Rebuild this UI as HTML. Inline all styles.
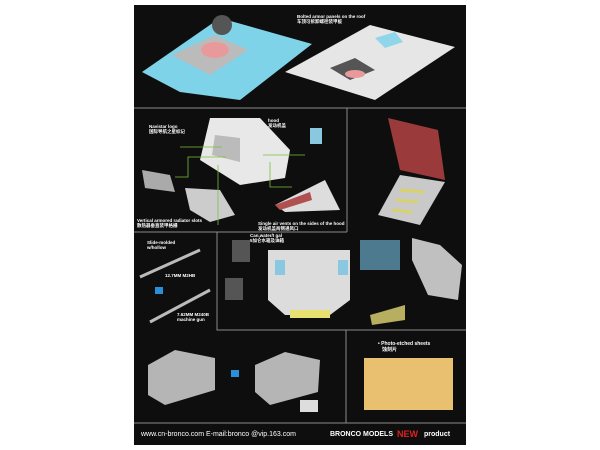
<!DOCTYPE html>
<html><head><style>
body{margin:0;background:#fff;width:600px;height:450px;overflow:hidden}
svg{display:block}
text{font-family:"Liberation Sans","Noto Sans CJK SC",sans-serif;fill:#fff;font-weight:bold}
</style></head><body>
<svg width="600" height="450" viewBox="0 0 600 450">
<rect x="134" y="5" width="332" height="440" fill="#0e0e0e"/>
<g stroke="#8a8a8a" stroke-width="1" fill="none">
<line x1="134" y1="108" x2="466" y2="108"/>
<line x1="347" y1="108" x2="347" y2="232"/>
<line x1="134" y1="232" x2="347" y2="232"/>
<polyline points="217,232 217,330 466,330"/>
<line x1="346" y1="330" x2="346" y2="423"/>
<line x1="134" y1="423" x2="466" y2="423"/>
</g>
<!-- top left roof -->
<polygon points="142,72 220,18 312,44 240,100 180,92" fill="#7fd3e8"/>
<polygon points="172,55 215,35 248,50 210,75" fill="#bbb"/>
<ellipse cx="215" cy="50" rx="14" ry="8" fill="#e89a9a"/>
<ellipse cx="222" cy="25" rx="10" ry="10" fill="#555"/>
<!-- top right roof -->
<polygon points="285,72 370,25 455,47 375,100" fill="#e6e6e6"/>
<polygon points="375,38 395,32 403,42 385,48" fill="#8fd6ea"/>
<polygon points="330,68 355,58 375,70 350,80" fill="#555"/>
<ellipse cx="355" cy="74" rx="10" ry="4" fill="#e89a9a"/>
<text x="297" y="18" font-size="4.5">Bolted armor panels on the roof</text>
<text x="297" y="23" font-size="4.5">车顶可拆卸螺栓装甲板</text>
<!-- hood section -->
<polygon points="210,118 260,118 290,150 285,178 240,185 200,160" fill="#e8e8e8"/>
<polygon points="215,135 240,138 240,162 212,155" fill="#bbb"/>
<polygon points="142,170 170,175 175,192 145,188" fill="#aaa"/>
<polygon points="185,188 220,190 235,215 210,222 190,210" fill="#ccc"/>
<polygon points="275,205 325,180 340,210 285,212" fill="#ddd"/>
<polygon points="275,205 310,192 312,200 280,210" fill="#b05050"/>
<rect x="310" y="128" width="12" height="16" fill="#8ac8e0"/>
<g stroke="#7fbf3f" stroke-width="0.8" fill="none">
<polyline points="180,147 222,147"/><polyline points="175,177 188,177 188,157 226,157"/><polyline points="218,165 218,225"/><polyline points="263,155 305,155"/><polyline points="270,162 270,187 292,187"/>
</g>
<text x="149" y="128" font-size="4.5">Navistar logo</text>
<text x="149" y="133" font-size="4.5">国际导航之星标记</text>
<text x="268" y="122" font-size="4.5">hood</text>
<text x="268" y="127" font-size="4.5">发动机盖</text>
<text x="137" y="222" font-size="4.5">Vertical armored radiator slots</text>
<text x="137" y="227" font-size="4.5">散热器垂直装甲格栅</text>
<text x="258" y="225" font-size="4.5">Single air vents on the sides of the hood</text>
<text x="258" y="230" font-size="4.5">发动机盖两侧通风口</text>
<!-- door right -->
<polygon points="388,118 438,130 445,180 400,170" fill="#9a3a3a"/>
<polygon points="378,215 400,175 445,182 420,225" fill="#c9c9c9"/>
<g stroke="#d9d26a" stroke-width="3"><line x1="392" y1="210" x2="412" y2="212"/><line x1="396" y1="200" x2="418" y2="202"/><line x1="400" y1="190" x2="424" y2="192"/></g>
<polygon points="412,238 440,245 462,265 458,300 428,295 412,260" fill="#c0c0c0"/>
<!-- middle -->
<polygon points="268,250 350,250 350,300 330,315 285,315 268,300" fill="#dcdcdc"/>
<rect x="275" y="260" width="10" height="15" fill="#8ac8e0"/><rect x="338" y="260" width="10" height="15" fill="#8ac8e0"/>
<rect x="290" y="310" width="40" height="8" fill="#e8e070"/>
<rect x="232" y="240" width="18" height="22" fill="#555"/><rect x="225" y="278" width="18" height="22" fill="#555"/>
<rect x="360" y="240" width="40" height="30" fill="#6aa8c8" opacity=".7"/>
<polygon points="370,315 405,305 405,320 372,325" fill="#b7ae60"/>
<text x="250" y="237" font-size="4.5">Can,water/t gal</text>
<text x="250" y="242" font-size="4.5">5加仑水箱及油箱</text>
<!-- guns -->
<g stroke="#bbb" stroke-width="3"><line x1="140" y1="277" x2="200" y2="250"/><line x1="150" y1="322" x2="210" y2="290"/></g>
<rect x="155" y="287" width="8" height="7" fill="#2a8fd8"/>
<text x="147" y="244" font-size="4.5">Slide-molded</text>
<text x="147" y="249" font-size="4.5">w/hollow</text>
<text x="165" y="277" font-size="4.5">12.7MM M2HB</text>
<text x="177" y="316" font-size="4.5">7.62MM M240B</text>
<text x="177" y="321" font-size="4.5">machine gun</text>
<!-- bottom turrets -->
<polygon points="148,365 175,350 215,358 215,390 165,405 148,395" fill="#b5b5b5"/>
<polygon points="255,365 285,352 320,360 318,392 270,405 255,392" fill="#b5b5b5"/>
<rect x="231" y="370" width="8" height="7" fill="#2a8fd8"/>
<rect x="300" y="400" width="18" height="12" fill="#ddd"/>
<!-- PE sheet -->
<rect x="364" y="358" width="89" height="52" fill="#e8c070"/>
<text x="378" y="345" font-size="5">• Photo-etched sheets</text>
<text x="382" y="351" font-size="5">蚀刻片</text>
<!-- footer -->
<text x="141" y="436" font-size="7" font-weight="normal" style="font-weight:normal">www.cn-bronco.com E-mail:bronco @vip.163.com</text>
<text x="330" y="436" font-size="7">BRONCO MODELS</text>
<text x="397" y="437" font-size="9" style="fill:#e02020">NEW</text>
<text x="424" y="436" font-size="7">product</text>
</svg>
</body></html>
